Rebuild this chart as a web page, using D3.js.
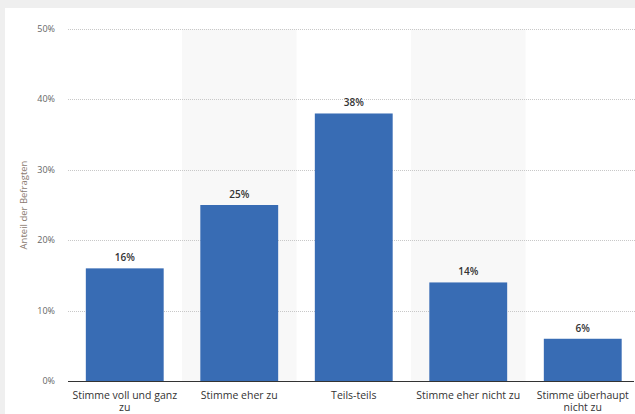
<!DOCTYPE html>
<html><head><meta charset="utf-8">
<script src="https://cdn.jsdelivr.net/npm/d3@7"></script>
<style>
body{margin:0;background:#efefef;}
svg{display:block;}
</style></head>
<body>
<svg id="chart" width="635" height="414"></svg>
<script>
const categories = ["Stimme voll und ganz zu","Stimme eher zu","Teils-teils","Stimme eher nicht zu","Stimme überhaupt nicht zu"];
const labelLines = [["Stimme voll und ganz","zu"],["Stimme eher zu"],["Teils-teils"],["Stimme eher nicht zu"],["Stimme überhaupt","nicht zu"]];
const values = [16,25,38,14,6];
const yTicks = [0,10,20,30,40,50];
const yTitle = "Anteil der Befragten";

const svg = d3.select("#chart");
svg.append("rect").attr("x",5).attr("y",8).attr("width",630).attr("height",406).attr("fill","#fff");

const x = d3.scaleBand().domain(categories).range([67.5,640]).paddingInner(0.32).paddingOuter(0.16);
const y = d3.scaleLinear().domain([0,50]).range([381,29]);
const step = x.step();

// alternating shaded bands
svg.append("g").selectAll("rect").data(categories.filter((d,i)=>i%2===1)).join("rect")
  .attr("x",d=>x(d)+x.bandwidth()/2-step/2)
  .attr("y",y(50)).attr("width",step).attr("height",y(0)-y(50)).attr("fill","#f8f8f8");

// gridlines
svg.append("g").selectAll("line").data(yTicks.filter(d=>d>0)).join("line")
  .attr("x1",68).attr("x2",635).attr("y1",d=>Math.round(y(d))+0.5).attr("y2",d=>Math.round(y(d))+0.5)
  .attr("stroke","#c8c8c8").attr("stroke-width",1).attr("stroke-dasharray","1,1");

// y tick labels
svg.append("g").selectAll("text").data(yTicks).join("text")
  .attr("x",55).attr("y",d=>y(d)+3).attr("text-anchor","end")
  .attr("font-family","Open Sans, sans-serif").attr("font-size",9).attr("fill","#666")
  .text(d=>d+"%");

// y title
svg.append("text").attr("transform","translate(27,205) rotate(-90)").attr("text-anchor","middle")
  .attr("font-family","Open Sans, sans-serif").attr("font-size",9.5).attr("fill","#8a7a70").text(yTitle);

// bars
svg.append("g").selectAll("rect").data(values).join("rect")
  .attr("x",(d,i)=>x(categories[i])).attr("width",x.bandwidth())
  .attr("y",d=>y(d)).attr("height",d=>y(0)-y(d)).attr("fill","#386cb4");

// value labels
svg.append("g").selectAll("text").data(values).join("text")
  .attr("x",(d,i)=>x(categories[i])+x.bandwidth()/2).attr("y",d=>y(d)-7)
  .attr("text-anchor","middle").attr("font-family","Open Sans, sans-serif").attr("font-size",10)
  .attr("font-weight",600).attr("fill","#333").text(d=>d+"%");

// x axis line
svg.append("line").attr("x1",68).attr("x2",634).attr("y1",381.5).attr("y2",381.5).attr("stroke","#333").attr("stroke-width",1);

// category labels
const cl = svg.append("g").selectAll("text").data(categories).join("text")
  .attr("x",d=>x(d)+x.bandwidth()/2).attr("y",399)
  .attr("text-anchor","middle").attr("font-family","Open Sans, sans-serif").attr("font-size",10.5).attr("fill","#333");
cl.each(function(d,i){
  const t=d3.select(this);
  labelLines[i].forEach((s,j)=>t.append("tspan").attr("x",x(d)+x.bandwidth()/2).attr("dy",j?12:0).text(s));
});
</script>
</body></html>
